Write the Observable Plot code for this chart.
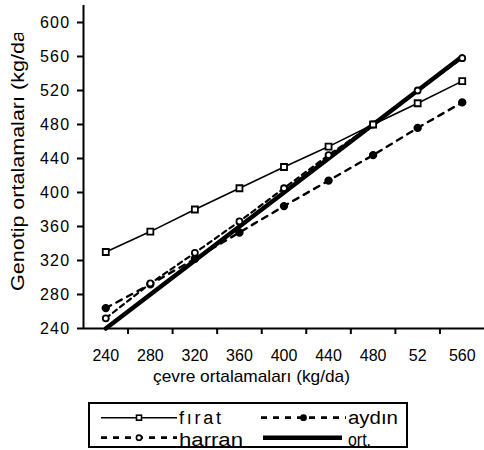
<!DOCTYPE html>
<html><head><meta charset="utf-8">
<script src="https://cdn.jsdelivr.net/npm/d3@7"></script>
<script src="https://cdn.jsdelivr.net/npm/@observablehq/plot@0.6"></script>
<style>
body{margin:0;background:#fff;font-family:"Liberation Sans",Arial,sans-serif;}
#chart svg{display:block}
</style></head><body><div id="chart"></div>
<script>
const categories = ["240","280","320","360","400","440","480","52","560"];
const firat  = [330, 354, 380, 405, 430, 454, 480, 505, 531];
const aydin  = [264, 292, 322, 353, 384, 414, 444, 476, 506];
const harran = [252, 293, 329, 366, 405, 444, 480, 520, 558];
const ort    = [240, 280, 320, 360, 400, 440, 480, 520, 560];
const yTicks = [240, 280, 320, 360, 400, 440, 480, 520, 560, 600];
const seriesNames = ["fırat", "aydın", "harran", "ort."];
const xTitle = "çevre ortalamaları (kg/da)";
const yTitle = "Genotip ortalamaları (kg/da)";

const seriesValues = {"fırat": firat, "aydın": aydin, "harran": harran, "ort.": ort};
const rows = [];
seriesNames.forEach(name => seriesValues[name].forEach((v, i) => rows.push({series: name, i, v})));

const styles = {
  "fırat":  {w: 1.6, dash: null,  symbol: "square", fill: "white", r: 3.4},
  "aydın":  {w: 2.4, dash: "6,6", symbol: "circle", fill: "black", r: 3.3},
  "harran": {w: 2.2, dash: "5,4", symbol: "circle", fill: "white", r: 3.0},
  "ort.":   {w: 4.5, dash: null,  symbol: null}
};

const idx = categories.map((_, i) => i);
const boundaries = d3.range(0.5, categories.length - 0.5, 1);
const drawOrder = ["ort.", "aydın", "harran", "fırat"];

const marks = [];
for (const name of drawOrder) {
  const s = styles[name];
  const data = rows.filter(d => d.series === name);
  marks.push(Plot.line(data, {x: "i", y: "v", stroke: "black", strokeWidth: s.w, strokeDasharray: s.dash || undefined}));
  if (s.symbol) marks.push(Plot.dot(data, {x: "i", y: "v", symbol: s.symbol, r: s.r, stroke: "black", strokeWidth: 1.8, fill: s.fill}));
}

const plot = Plot.plot({
  width: 484, height: 398,
  marginLeft: 83, marginRight: 0, marginTop: 5, marginBottom: 70,
  style: {fontFamily: '"Liberation Sans", Arial, sans-serif', fontSize: "16px", color: "black", background: "white"},
  x: {type: "linear", domain: [-0.5, categories.length - 0.5]},
  y: {domain: [240, 620]},
  marks: [
    Plot.axisY(yTicks, {tickSize: 6, tickPadding: 7, strokeWidth: 2, fontSize: 16, label: null}),
    Plot.axisX(boundaries, {tickSize: 6, tickFormat: () => "", strokeWidth: 2, label: null}),
    Plot.axisX(idx, {tickSize: 0, tickPadding: 21.5, tickFormat: i => categories[i], fontSize: 16, label: null}),
    ...marks,
    Plot.ruleX([-0.5], {strokeWidth: 2}),
    Plot.ruleY([240], {strokeWidth: 2})
  ]
});
document.getElementById("chart").appendChild(plot);

const svg = d3.select(plot);
svg.selectAll('g[aria-label="y-axis tick label"] text').style("letter-spacing", "1.3px");
const defs = svg.append("defs");
defs.append("clipPath").attr("id", "ytclip").append("rect").attr("x", 0).attr("y", 33).attr("width", 60).attr("height", 400);
svg.append("text").attr("x", 251.5).attr("y", 382).attr("text-anchor", "middle")
  .attr("font-size", 17).attr("textLength", 197).attr("lengthAdjust", "spacingAndGlyphs")
  .attr("fill", "black").text(xTitle);
svg.append("g").attr("clip-path", "url(#ytclip)").append("text")
  .attr("transform", "translate(23.5,291) rotate(-90)").attr("text-anchor", "start")
  .attr("font-size", 18).attr("textLength", 268).attr("lengthAdjust", "spacingAndGlyphs")
  .attr("fill", "black").text(yTitle);

// legend below
const leg = d3.select("body").append("svg").attr("width", 484).attr("height", 52)
  .style("display", "block").style("font-family", '"Liberation Sans", Arial, sans-serif');
leg.append("rect").attr("x", 89).attr("y", 5).attr("width", 318).attr("height", 44)
  .attr("fill", "white").attr("stroke", "black").attr("stroke-width", 2);
const legPos = {
  "fırat":  {x1: 101, x2: 177, y: 19.7, tx: 179, ty: 26.3, tl: 42, adj: "spacing"},
  "aydın":  {x1: 261, x2: 346, y: 19.7, tx: 348, ty: 26.3, tl: 50, adj: "spacingAndGlyphs"},
  "harran": {x1: 101, x2: 177, y: 39.7, tx: 179, ty: 47.7, tl: 64, adj: "spacingAndGlyphs"},
  "ort.":   {x1: 263, x2: 342, y: 39.7, tx: 348, ty: 47.7, tl: 23, adj: "spacingAndGlyphs"}
};
for (const name of seriesNames) {
  const s = styles[name], p = legPos[name];
  leg.append("line").attr("x1", p.x1).attr("x2", p.x2).attr("y1", p.y).attr("y2", p.y)
    .attr("stroke", "black").attr("stroke-width", s.dash ? 2.8 : s.w).attr("stroke-dasharray", s.dash ? "6,6" : null);
  const cx = (p.x1 + p.x2) / 2;
  if (s.symbol === "square") {
    leg.append("rect").attr("x", cx - 2.5).attr("y", p.y - 2.5).attr("width", 5).attr("height", 5)
      .attr("fill", s.fill).attr("stroke", "black").attr("stroke-width", 1.6);
  } else if (s.symbol === "circle") {
    leg.append("circle").attr("cx", cx).attr("cy", p.y).attr("r", 2.6)
      .attr("fill", s.fill).attr("stroke", "black").attr("stroke-width", 1.6);
  }
  leg.append("text").attr("x", p.tx).attr("y", p.ty).attr("font-size", 18)
    .attr("textLength", p.tl).attr("lengthAdjust", p.adj).attr("fill", "black").text(name);
}
</script></body></html>
